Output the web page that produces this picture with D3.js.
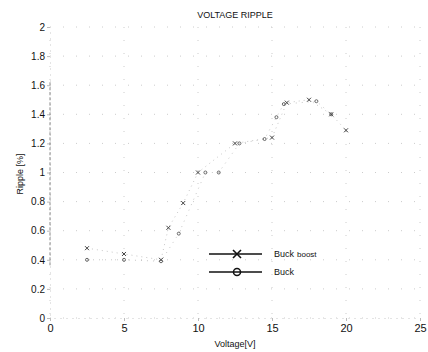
<!DOCTYPE html>
<html>
<head>
<meta charset="utf-8">
<script src="https://cdn.jsdelivr.net/npm/d3@7"></script>
<style>
  body { margin: 0; background: #fff; }
  text { font-family: "Liberation Sans", Arial, sans-serif; fill: #111; }
</style>
</head>
<body>
<div id="root"></div>
<script>
// values
var boostX = [2.5, 5, 7.5, 8, 9, 10, 12.5, 15, 16, 17.5, 19, 20];
var boostY = [0.48, 0.44, 0.40, 0.62, 0.79, 1.0, 1.2, 1.24, 1.48, 1.5, 1.4, 1.29];
var buckX = [2.5, 5, 7.5, 8.7, 10.5, 11.4, 12.8, 14.5, 15.3, 15.8, 18, 19];
var buckY = [0.40, 0.40, 0.39, 0.58, 1.0, 1.0, 1.2, 1.23, 1.38, 1.47, 1.49, 1.40];
var xTicks = [0, 5, 10, 15, 20, 25];
var yTicks = [0, 0.2, 0.4, 0.6, 0.8, 1, 1.2, 1.4, 1.6, 1.8, 2];

var width = 428, height = 352;
var margin = {top: 27, right: 8, bottom: 34, left: 50};
var w = width - margin.left - margin.right,
    h = height - margin.top - margin.bottom;

var x = d3.scaleLinear().domain([0, 25]).range([0, w]);
var y = d3.scaleLinear().domain([0, 2]).range([h, 0]);

var svg = d3.select("#root").append("svg")
    .attr("width", width)
    .attr("height", height);

var g = svg.append("g")
    .attr("transform", "translate(" + margin.left + "," + margin.top + ")");

// faded grid
g.selectAll(".gx").data(xTicks).enter().append("line")
    .attr("x1", d => x(d)).attr("x2", d => x(d))
    .attr("y1", 0).attr("y2", h)
    .attr("stroke", "#ccc").attr("stroke-dasharray", "1,12");
g.selectAll(".gy").data(yTicks).enter().append("line")
    .attr("x1", 0).attr("x2", w)
    .attr("y1", d => y(d)).attr("y2", d => y(d))
    .attr("stroke", "#ccc").attr("stroke-dasharray", "1,12");

// axes
var xAxis = g.append("g")
    .attr("transform", "translate(0," + h + ")")
    .call(d3.axisBottom(x).tickValues(xTicks).tickSize(3).tickPadding(3));
var yAxis = g.append("g")
    .call(d3.axisLeft(y).tickValues(yTicks).tickSize(3).tickPadding(2)
      .tickFormat(d3.format("~g")));

[xAxis, yAxis].forEach(function(a) {
  a.select(".domain").attr("stroke", "#e4e4e4").attr("stroke-dasharray", "2,4");
  a.selectAll(".tick line").attr("stroke", "#bbb");
  a.selectAll(".tick text").style("font-size", "10px").attr("fill", "#000");
});
xAxis.selectAll(".tick text").style("font-size", "11px");

// left axis partly visible in the scan
g.append("line")
    .attr("x1", 0).attr("x2", 0)
    .attr("y1", y(1.62)).attr("y2", y(0.36))
    .attr("stroke", "#888").attr("stroke-dasharray", "3,2");

var line = d3.line().x(d => x(d[0])).y(d => y(d[1]));
var boost = d3.zip(boostX, boostY);
var buck = d3.zip(buckX, buckY);

g.append("path").datum(boost)
    .attr("d", line).attr("fill", "none")
    .attr("stroke", "#c8c8c8").attr("stroke-dasharray", "1,4");
g.append("path").datum(buck)
    .attr("d", line).attr("fill", "none")
    .attr("stroke", "#c8c8c8").attr("stroke-dasharray", "1,5");

g.selectAll(".mx").data(boost).enter().append("path")
    .attr("transform", d => "translate(" + x(d[0]) + "," + y(d[1]) + ")")
    .attr("d", "M-2,-2L2,2M-2,2L2,-2")
    .attr("stroke", "#444").attr("stroke-width", 1);
g.selectAll(".mo").data(buck).enter().append("circle")
    .attr("cx", d => x(d[0])).attr("cy", d => y(d[1]))
    .attr("r", 1.5).attr("fill", "none")
    .attr("stroke", "#666");

// title and labels
svg.append("text")
    .attr("x", 235).attr("y", 18)
    .attr("text-anchor", "middle")
    .style("font-size", "9px")
    .text("VOLTAGE RIPPLE");
svg.append("text")
    .attr("x", margin.left + w / 2).attr("y", 347)
    .attr("text-anchor", "middle")
    .style("font-size", "9px")
    .text("Voltage[V]");
svg.append("text")
    .attr("transform", "translate(23,174) rotate(-90)")
    .attr("text-anchor", "middle")
    .style("font-size", "9px")
    .text("Ripple  [%]");

// legend
var legend = svg.append("g");
var rows = [
  {name: "Buck", extra: "boost", mark: "x", yy: 254},
  {name: "Buck", extra: "", mark: "o", yy: 272}
];
rows.forEach(function(r) {
  legend.append("line")
      .attr("x1", 209).attr("x2", 262)
      .attr("y1", r.yy).attr("y2", r.yy)
      .attr("stroke", "#111").attr("stroke-width", 1.4);
  if (r.mark == "x") {
    legend.append("path")
        .attr("d", "M" + 233 + "," + (r.yy - 4) + "l8,8m-8,0l8,-8")
        .attr("stroke", "#111").attr("stroke-width", 1.6);
  } else {
    legend.append("circle")
        .attr("cx", 237).attr("cy", r.yy).attr("r", 3.5)
        .attr("fill", "none").attr("stroke", "#111").attr("stroke-width", 1.5);
  }
  legend.append("text")
      .attr("x", 274).attr("y", r.yy + 3)
      .style("font-size", "9px")
      .text(r.name);
  if (r.extra) {
    legend.append("text")
        .attr("x", 297).attr("y", r.yy + 3)
        .style("font-size", "8px").attr("fill", "#666")
        .text(r.extra);
  }
});
</script>
</body>
</html>
